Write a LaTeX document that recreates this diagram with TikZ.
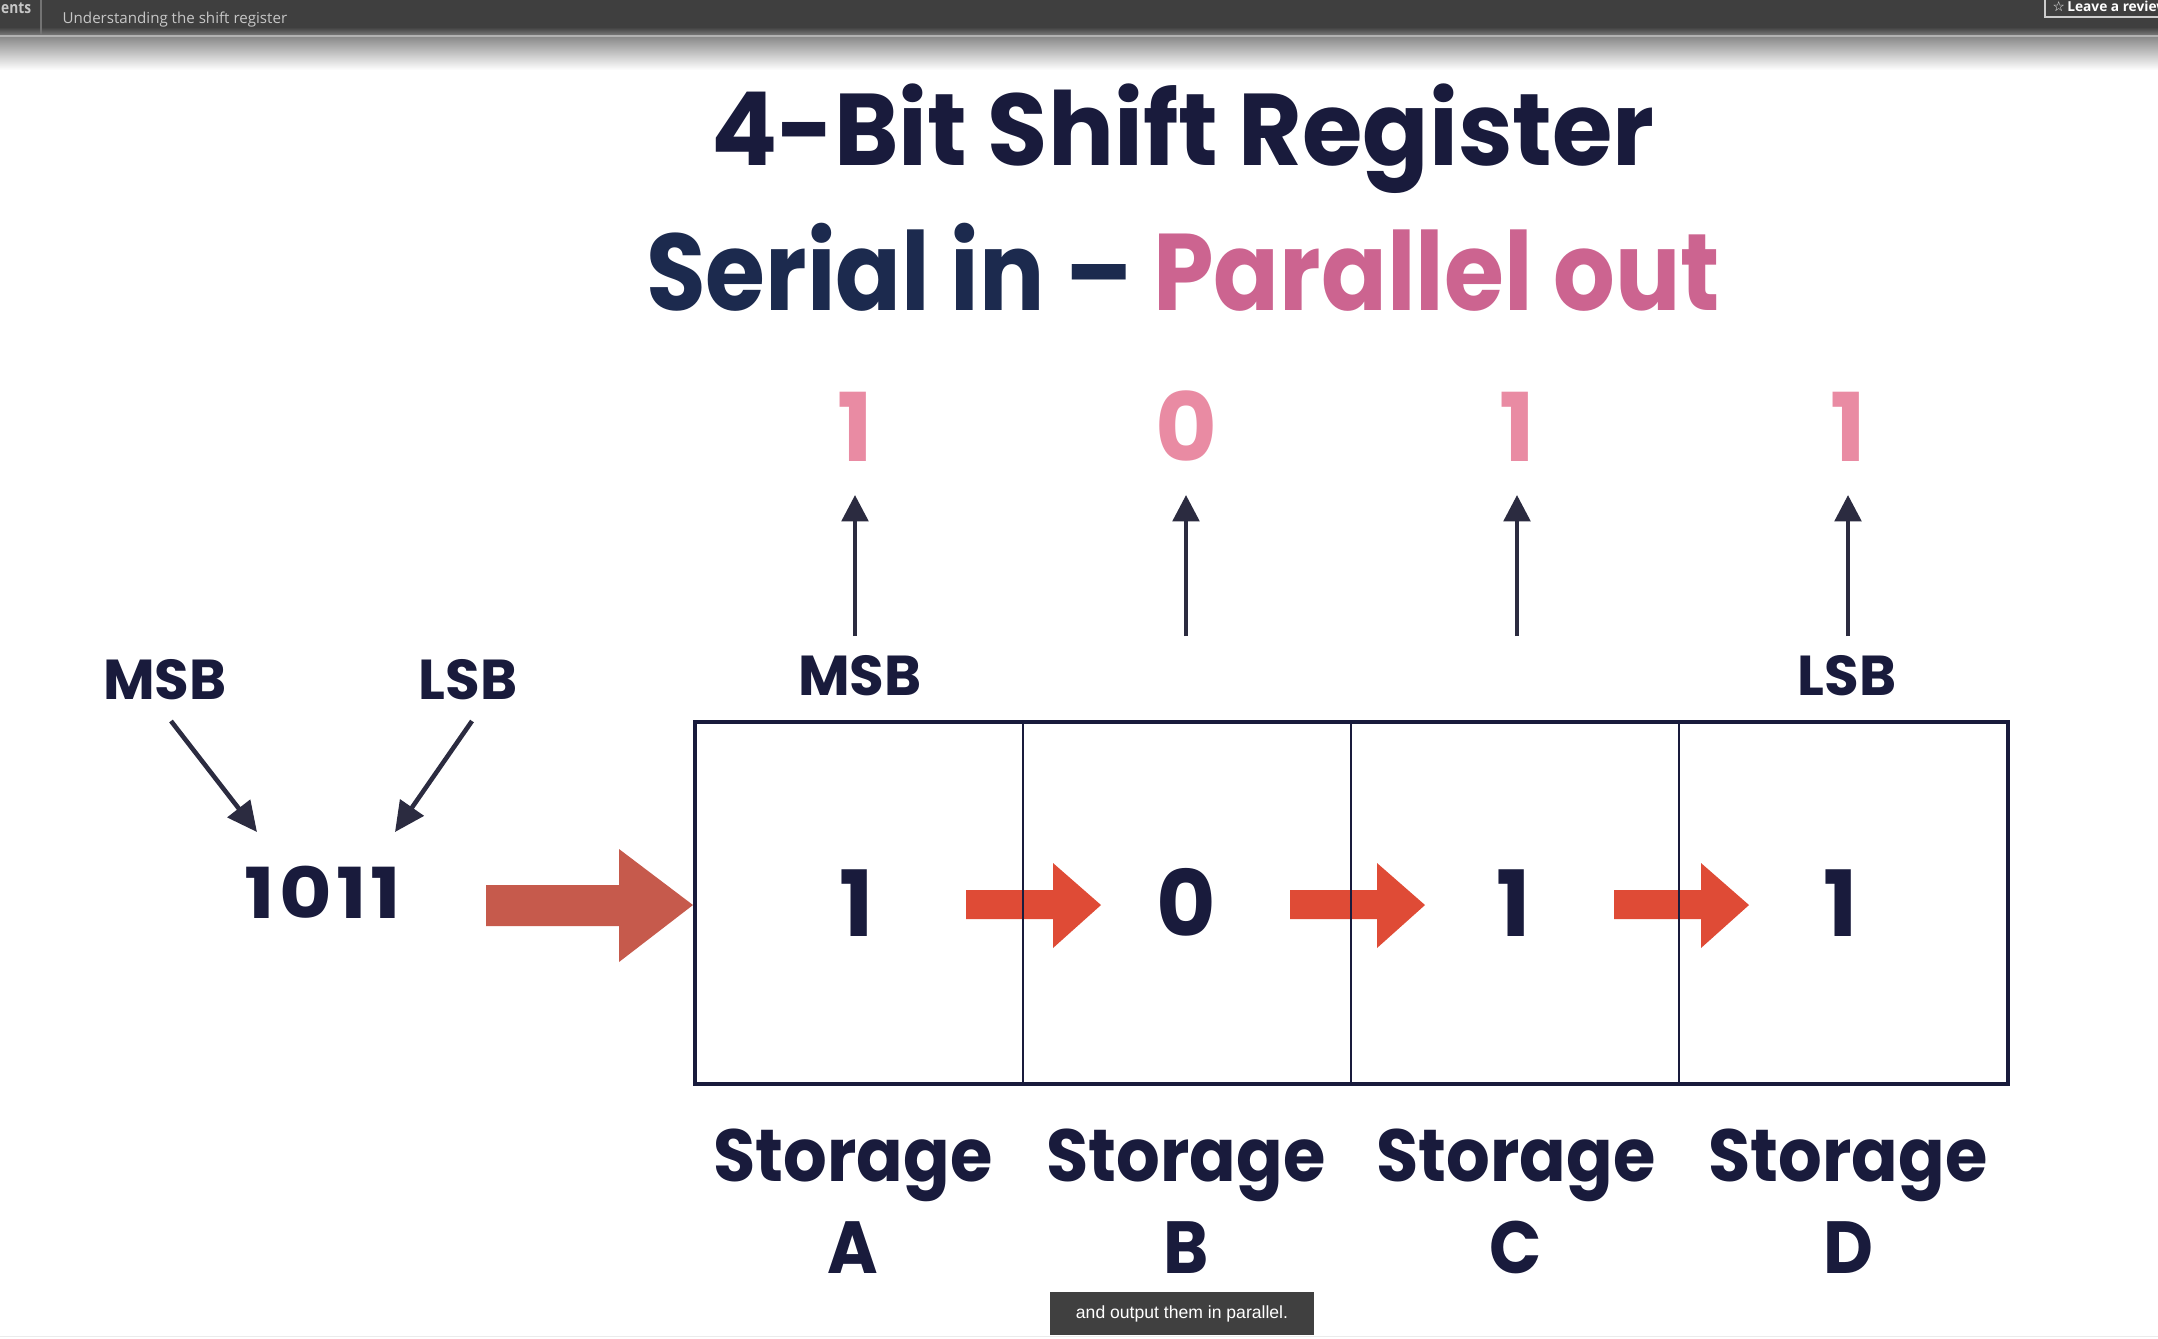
\documentclass[tikz,border=0pt]{standalone}
\usepackage{fontspec}
\setmainfont{Poppins}
\newfontfamily\titlefont[FakeStretch=0.96]{Poppins}
\newfontfamily\subfont[FakeStretch=0.89]{Poppins}
\newfontfamily\storefont[FakeStretch=0.93]{Poppins}
\newfontfamily\wordfont[FakeStretch=1.15,LetterSpace=6]{Poppins}
\newfontfamily\uifont{Open Sans}
\newfontfamily\condui[FakeStretch=0.85]{Open Sans}
\newfontfamily\capfont{Liberation Sans}
\newfontfamily\symfont{DejaVu Sans}
\usetikzlibrary{arrows.meta}
\definecolor{navy}{HTML}{191B3C}
\definecolor{subnavy}{HTML}{1C2A4E}
\definecolor{pinkt}{HTML}{CC6490}
\definecolor{pinkd}{HTML}{E98BA3}
\definecolor{arrowc}{HTML}{2B2B40}
\definecolor{bigred}{HTML}{C65A4C}
\definecolor{smallred}{HTML}{DF4B36}
\definecolor{barc}{HTML}{3F3F3F}
\definecolor{capbox}{HTML}{404040}
\tikzset{
  txt/.style={anchor=base, inner sep=0pt, font=\bfseries},
  titletxt/.style={txt, text=navy, font=\titlefont\fontsize{29}{34}\selectfont\bfseries},
  subtxt/.style={txt, font=\subfont\fontsize{31}{36}\selectfont\bfseries},
  outdig/.style={txt, text=pinkd, font=\fontsize{27}{32}\selectfont\bfseries},
  celldig/.style={txt, text=navy, font=\fontsize{26}{31}\selectfont\bfseries},
  bitlbl/.style={txt, text=navy, font=\fontsize{16}{19}\selectfont\bfseries},
  wordlbl/.style={txt, text=navy, font=\wordfont\fontsize{20}{24}\selectfont\bfseries},
  storelbl/.style={txt, text=navy, font=\storefont\fontsize{21}{25}\selectfont\bfseries},
  thinarrow/.style={draw=arrowc, line width=1.25pt, -{Triangle[width=7.5pt,length=7.5pt]}},
  diagarrow/.style={draw=arrowc, line width=1.3pt, -{Triangle[width=8pt,length=8.5pt]}},
}
\begin{document}
\begin{tikzpicture}[x=0.01cm,y=-0.01cm]
\useasboundingbox (0,0) rectangle (2158,1338);
\fill[white] (0,0) rectangle (2158,1338);
% top bar
\begin{scope}
\clip (0,0) rectangle (2158,1338);
\fill[barc] (0,0) rectangle (2158,27);
\shade[top color=barc, bottom color=barc!70!white] (0,27) rectangle (2158,35);
\fill[black!30] (0,35) rectangle (2158,37.5);
\shade[top color=black!45, bottom color=white] (0,37.5) rectangle (2158,70);
\draw[black!55, line width=0.3pt] (41,0) -- (41,35);
\node[anchor=base west, inner sep=0pt, text=black!22, font=\condui\fontsize{4.6}{5}\selectfont\bfseries] (ents) at (0.5,13.5) {ents};
\node[anchor=base west, inner sep=0pt, text=black!22, font=\uifont\fontsize{4.3}{5}\selectfont] (crs) at (62,23) {Understanding the shift register};
\draw[black!20, line width=0.35pt] (2045,-2) rectangle (2175,17);
\node[anchor=base west, inner sep=0pt, text=white, font=\uifont\fontsize{3.9}{5}\selectfont\bfseries] (rev) at (2052,11) {{\symfont\bfseries ☆}\,Leave a review};
\end{scope}
% titles
\node[titletxt] (title) at (1183,165) {4-Bit Shift Register};
\node[subtxt] (subtitle) at (1183,310) {\textcolor{subnavy}{Serial in –} \textcolor{pinkt}{Parallel out}};
% parallel outputs
\foreach \i/\x/\v in {1/855/1,2/1186/0,3/1517/1,4/1848/1}{
  \node[outdig] (o\i) at (\x,461) {\v};
  \coordinate (ob\i) at (\x,636);
  \coordinate (ot\i) at (\x,495);
  \draw[thinarrow] (ob\i) -- (ot\i);
}
\node[bitlbl] (msbT) at (860,695) {MSB};
\node[bitlbl] (lsbT) at (1847,695) {LSB};
% serial input word
\node[bitlbl] (msbL) at (165,699) {MSB};
\node[bitlbl] (lsbL) at (468,699) {LSB};
\node[wordlbl] (word) at (323,918) {1011};
\coordinate (ma) at (171,721); \coordinate (mb) at (257,832);
\coordinate (la) at (472,721); \coordinate (lb) at (395,832);
\draw[diagarrow] (ma) -- (mb);
\draw[diagarrow] (la) -- (lb);
% big input arrow
\fill[bigred] (486,885) -- (619,885) -- (619,849) -- (693,905) -- (619,962) -- (619,926) -- (486,926) -- cycle;
% shift arrows
\foreach \dx in {0,324,648}{
  \fill[smallred, shift={(\dx,0)}] (966,890) -- (1053,890) -- (1053,863) -- (1101,905) -- (1053,948) -- (1053,919) -- (966,919) -- cycle;
}
% register box
\draw[navy, line width=0.7pt] (1023,722) -- (1023,1084) (1351,722) -- (1351,1084) (1679,722) -- (1679,1084);
\draw[navy, line width=1.15pt] (695,722) rectangle (2008,1084);
% cell digits
\foreach \i/\x/\v in {1/857/1,2/1186/0,3/1514/1,4/1841/1}{
  \node[celldig] (d\i) at (\x,936) {\v};
}
% storage labels
\foreach \i/\x/\l in {1/853/A,2/1186/B,3/1516/C,4/1848/D}{
  \node[storelbl] (s\i) at (\x,1181) {Storage};
  \node[storelbl] (l\i) at (\x,1273) {\l};
}
% caption
\node[fill=capbox, minimum width=2.64cm, minimum height=0.43cm, inner sep=0pt, text=white, font=\capfont\fontsize{5}{6}\selectfont] (caption) at (1182,1313.5) {and output them in parallel.};
\draw[black!8, line width=0.4pt] (0,1336.5) -- (2158,1336.5);
\end{tikzpicture}
\end{document}
